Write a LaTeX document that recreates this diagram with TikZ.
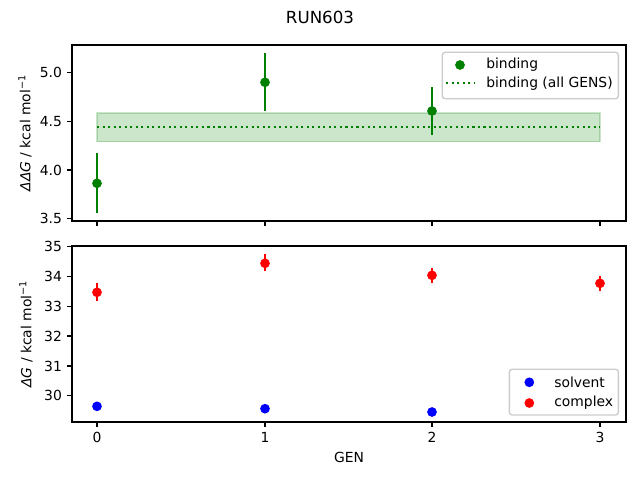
\documentclass[tikz,border=0pt]{standalone}
\usepackage{fontspec}
\setmainfont{DejaVu Sans}
\definecolor{mplgreen}{RGB}{0,128,0}
\definecolor{mplblue}{RGB}{0,0,255}
\definecolor{mplred}{RGB}{255,0,0}
\definecolor{legendedge}{RGB}{204,204,204}

\begin{document}
\begin{tikzpicture}[x=0.72pt,y=0.72pt,yscale=-1,xscale=1,
  spine/.style={line width=0.8pt,black},
  tickmark/.style={line width=0.8pt,black},
  ticklabel/.style={inner sep=0pt,font=\fontsize{10}{12}\selectfont},
  errbar/.style={line width=1.5pt},
  dotmark/.style={circle,inner sep=0pt,minimum size=7pt},
  legendbox/.style={draw=legendedge,fill=white,fill opacity=0.8,line width=1pt,rounded corners=2pt}]
\useasboundingbox (0,0) rectangle (640,480);

% Text Node
\draw (320,17) node [font=\fontsize{12}{14}\selectfont] (title) {RUN603};

%Shape: band [id:top]
\fill [mplgreen,fill opacity=0.2] (97,113) rectangle (600,141.7);
\draw [mplgreen,draw opacity=0.2,line width=1pt] (97,113) rectangle (600,141.7);
%Straight Lines
\draw [mplgreen,line width=1.5pt,dash pattern={on 1.5pt off 2.475pt}] (97,127) -- (600,127);

%Error bars binding
\draw [mplgreen,errbar] (97,153.3) -- (97,212.7);
\draw [mplgreen,errbar] (265,53.3) -- (265,110.7);
\draw [mplgreen,errbar] (432,87.3) -- (432,135);
\node [dotmark,fill=mplgreen] (b0) at (97,183.3) {};
\node [dotmark,fill=mplgreen] (b1) at (265,82.3) {};
\node [dotmark,fill=mplgreen] (b2) at (432,111) {};

%Shape: Axis top
\draw [spine] (72,45) rectangle (626,221);
\foreach \x in {97,265,432,600}
  \draw [tickmark] (\x,221) -- (\x,225.9);
\foreach \y/\t in {72.3/5.0,121.3/4.5,170/4.0,218.7/3.5}
  {\draw [tickmark] (72,\y) -- (67.1,\y);
   \node [ticklabel,anchor=east] at (62.2,\y) {\t};}
% Text Node
\draw (25,133) node [rotate=90,font=\fontsize{10}{12}\selectfont] (ylabtop) {\textit{ΔΔG} / kcal mol\textsuperscript{−1}};

%Legend top
\draw [legendbox] (442.3,52.3) rectangle (618.3,98.7);
\node [dotmark,fill=mplgreen] (legb) at (460,65) {};
\draw [mplgreen,line width=1.5pt,dash pattern={on 1.5pt off 2.475pt}] (446,83.3) -- (474,83.3);
\node [ticklabel,anchor=west] (legbt) at (486,65) {binding};
\node [ticklabel,anchor=west] (legat) at (486,83.3) {binding (all GENS)};

%Error bars complex
\draw [mplred,errbar] (97,283.3) -- (97,300.7);
\draw [mplred,errbar] (265,254.3) -- (265,270.7);
\draw [mplred,errbar] (432,268.3) -- (432,282.7);
\draw [mplred,errbar] (600,276) -- (600,291);
\node [dotmark,fill=mplred] (c0) at (97,292.3) {};
\node [dotmark,fill=mplred] (c1) at (265,263.3) {};
\node [dotmark,fill=mplred] (c2) at (432,275.3) {};
\node [dotmark,fill=mplred] (c3) at (600,283.3) {};
%Solvent
\node [dotmark,fill=mplblue] (s0) at (97,406.3) {};
\node [dotmark,fill=mplblue] (s1) at (265,408.7) {};
\node [dotmark,fill=mplblue] (s2) at (432,412) {};

%Shape: Axis bottom
\draw [spine] (72,246) rectangle (626,422);
\foreach \x/\t in {97/0,265/1,432/2,600/3}
  {\draw [tickmark] (\x,422) -- (\x,426.9);
   \node [ticklabel,anchor=north] at (\x,431.8) {\t};}
\foreach \y/\t in {246.7/35,276.7/34,306.3/33,336/32,366/31,395.7/30}
  {\draw [tickmark] (72,\y) -- (67.1,\y);
   \node [ticklabel,anchor=east] at (62.2,\y) {\t};}
% Text Node
\draw (26,334) node [rotate=90,font=\fontsize{10}{12}\selectfont] (ylabbot) {\textit{ΔG} / kcal mol\textsuperscript{−1}};
\draw (349,457) node [font=\fontsize{10}{12}\selectfont] (xlab) {GEN};

%Legend bottom
\draw [legendbox] (509.3,369.3) rectangle (618.3,415);
\node [dotmark,fill=mplblue] (legs) at (529.3,382.3) {};
\node [dotmark,fill=mplred] (legc) at (529.3,403) {};
\node [ticklabel,anchor=west] (legst) at (554,382.3) {solvent};
\node [ticklabel,anchor=west] (legct) at (554,403) {complex};

\end{tikzpicture}
\end{document}
